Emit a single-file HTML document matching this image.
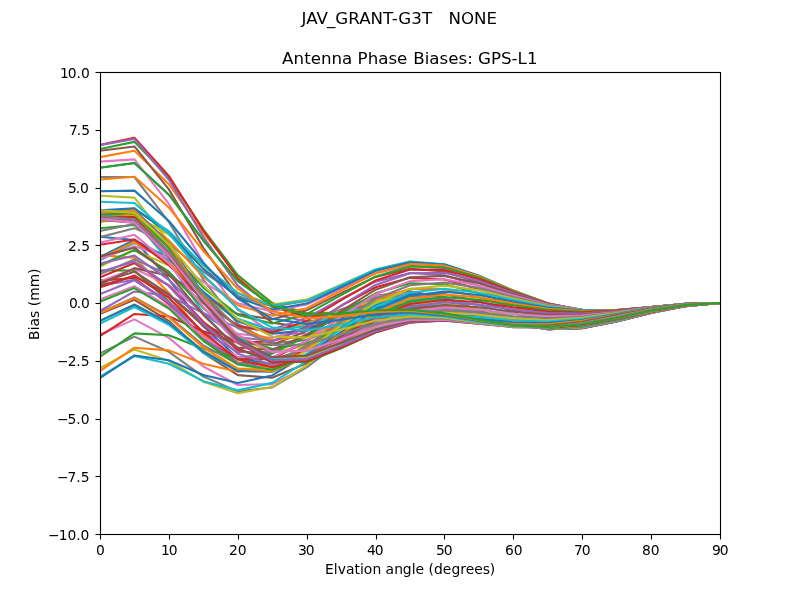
<!DOCTYPE html>
<html lang="en">
<head>
<meta charset="utf-8">
<title>JAV_GRANT-G3T NONE - Antenna Phase Biases: GPS-L1</title>
<style>
html,body{margin:0;padding:0;background:#fff;}
body{width:800px;height:600px;overflow:hidden;}
svg{display:block;font-family:"DejaVu Sans","Liberation Sans",sans-serif;fill:#000;}
.t10{font-size:13.889px;}
.t12{font-size:16.667px;}
.mid{text-anchor:middle;}
.end{text-anchor:end;}
.curves polyline{fill:none;stroke-width:2.0833;stroke-linejoin:round;stroke-linecap:square;}
.ticks line,.frame{stroke:#000;stroke-width:1.111;fill:none;}
.frame{stroke-linejoin:miter;stroke-linecap:square;}
</style>
</head>
<body>
<svg width="800" height="600" viewBox="0 0 800 600" role="img" aria-label="Antenna Phase Biases: GPS-L1">
<rect width="800" height="600" fill="#ffffff"/>
<defs><clipPath id="ax"><rect x="100" y="72" width="620" height="462"/></clipPath></defs>
<g class="curves" clip-path="url(#ax)">
<polyline points="100.00,167.73 134.44,162.94 168.89,194.71 203.33,240.48 237.78,280.87 272.22,305.72 306.67,314.65 341.11,313.62 375.56,310.17 410.00,309.61 444.44,313.39 478.89,319.67 513.33,325.14 547.78,327.01 582.22,324.26 616.67,317.96 651.11,310.58 685.56,304.95 720.00,303.07" stroke="#1f77b4"/>
<polyline points="100.00,157.10 134.44,150.76 168.89,184.22 203.33,232.87 237.78,276.05 272.22,302.94 306.67,313.05 341.11,312.51 375.56,309.18 410.00,308.66 444.44,312.57 478.89,319.13 513.33,324.95 547.78,327.12 582.22,324.56 616.67,318.28 651.11,310.81 685.56,305.06 720.00,303.07" stroke="#ff7f0e"/>
<polyline points="100.00,149.02 134.44,141.88 168.89,177.55 203.33,229.31 237.78,275.05 272.22,303.37 306.67,313.77 341.11,312.81 375.56,308.86 410.00,307.93 444.44,311.79 478.89,318.61 513.33,324.82 547.78,327.32 582.22,324.92 616.67,318.63 651.11,311.05 685.56,305.17 720.00,303.07" stroke="#2ca02c"/>
<polyline points="100.00,144.73 134.44,137.67 168.89,175.88 203.33,230.56 237.78,278.26 272.22,307.07 306.67,316.70 341.11,314.34 375.56,309.06 410.00,307.29 444.44,310.97 478.89,318.06 513.33,324.71 547.78,327.57 582.22,325.33 616.67,319.00 651.11,311.29 685.56,305.27 720.00,303.07" stroke="#d62728"/>
<polyline points="100.00,145.15 134.44,139.07 168.89,179.83 203.33,236.86 237.78,285.58 272.22,313.74 306.67,321.48 341.11,316.79 375.56,309.53 410.00,306.61 444.44,310.01 478.89,317.42 513.33,324.60 547.78,327.87 582.22,325.77 616.67,319.39 651.11,311.54 685.56,305.38 720.00,303.07" stroke="#9467bd"/>
<polyline points="100.00,150.79 134.44,146.43 168.89,189.40 203.33,247.85 237.78,296.39 272.22,322.70 306.67,327.50 341.11,319.70 375.56,310.00 410.00,305.74 444.44,308.86 478.89,316.67 513.33,324.45 547.78,328.17 582.22,326.23 616.67,319.78 651.11,311.78 685.56,305.48 720.00,303.07" stroke="#8c564b"/>
<polyline points="100.00,161.59 134.44,159.41 168.89,203.89 203.33,262.56 237.78,309.63 272.22,332.96 306.67,333.99 341.11,322.59 375.56,310.21 410.00,304.57 444.44,307.48 478.89,315.79 513.33,324.25 547.78,328.45 582.22,326.67 616.67,320.16 651.11,312.00 685.56,305.58 720.00,303.07" stroke="#e377c2"/>
<polyline points="100.00,176.94 134.44,177.00 168.89,222.01 203.33,279.55 237.78,323.91 272.22,343.38 306.67,340.15 341.11,324.95 375.56,309.93 410.00,303.04 444.44,305.87 478.89,314.79 513.33,323.98 547.78,328.69 582.22,327.09 616.67,320.51 651.11,312.21 685.56,305.67 720.00,303.07" stroke="#7f7f7f"/>
<polyline points="100.00,195.67 134.44,197.62 168.89,241.97 203.33,297.04 237.78,337.69 272.22,352.76 306.67,345.18 341.11,326.39 375.56,309.02 410.00,301.16 444.44,304.11 478.89,313.71 513.33,323.67 547.78,328.87 582.22,327.45 616.67,320.82 651.11,312.40 685.56,305.76 720.00,303.07" stroke="#bcbd22"/>
<polyline points="100.00,216.19 134.44,219.32 168.89,261.73 203.33,313.21 237.78,349.48 272.22,360.07 306.67,348.48 341.11,326.64 375.56,307.47 410.00,299.02 444.44,302.29 478.89,312.64 513.33,323.33 547.78,329.01 582.22,327.74 616.67,321.08 651.11,312.56 685.56,305.83 720.00,303.07" stroke="#17becf"/>
<polyline points="100.00,236.67 134.44,239.96 168.89,279.29 203.33,326.35 237.78,358.03 272.22,364.51 306.67,349.66 341.11,325.62 375.56,305.37 410.00,296.79 444.44,300.56 478.89,311.66 513.33,323.01 547.78,329.08 582.22,327.96 616.67,321.27 651.11,312.69 685.56,305.90 720.00,303.07" stroke="#1f77b4"/>
<polyline points="100.00,255.25 134.44,257.59 168.89,292.91 203.33,335.18 237.78,362.54 272.22,365.69 306.67,348.64 341.11,323.46 375.56,302.92 410.00,294.67 444.44,299.09 478.89,310.87 513.33,322.75 547.78,329.12 582.22,328.10 616.67,321.40 651.11,312.79 685.56,305.96 720.00,303.07" stroke="#ff7f0e"/>
<polyline points="100.00,270.29 134.44,270.60 168.89,301.40 203.33,338.99 237.78,362.72 272.22,363.66 306.67,345.66 341.11,320.44 375.56,300.42 410.00,292.90 444.44,298.03 478.89,310.37 513.33,322.60 547.78,329.13 582.22,328.16 616.67,321.47 651.11,312.85 685.56,306.01 720.00,303.07" stroke="#2ca02c"/>
<polyline points="100.00,280.63 134.44,278.05 168.89,304.24 203.33,337.74 237.78,358.89 272.22,358.90 306.67,341.22 341.11,317.02 375.56,298.19 410.00,291.69 444.44,297.53 478.89,310.24 513.33,322.59 547.78,329.14 582.22,328.14 616.67,321.46 651.11,312.88 685.56,306.05 720.00,303.07" stroke="#d62728"/>
<polyline points="100.00,285.70 134.44,279.72 168.89,301.71 203.33,332.07 237.78,351.90 272.22,352.26 306.67,336.05 341.11,313.72 375.56,296.56 410.00,291.24 444.44,297.66 478.89,310.51 513.33,322.75 547.78,329.13 582.22,328.06 616.67,321.40 651.11,312.87 685.56,306.08 720.00,303.07" stroke="#9467bd"/>
<polyline points="100.00,285.67 134.44,276.21 168.89,294.82 203.33,323.25 237.78,343.02 272.22,344.87 306.67,330.98 341.11,311.06 375.56,295.83 410.00,291.65 444.44,298.47 478.89,311.18 513.33,323.07 547.78,329.14 582.22,327.92 616.67,321.27 651.11,312.84 685.56,306.10 720.00,303.07" stroke="#8c564b"/>
<polyline points="100.00,281.42 134.44,268.81 168.89,285.15 203.33,312.96 237.78,333.79 272.22,337.93 306.67,326.84 341.11,309.52 375.56,296.17 410.00,292.96 444.44,299.90 478.89,312.21 513.33,323.52 547.78,329.14 582.22,327.72 616.67,321.10 651.11,312.77 685.56,306.11 720.00,303.07" stroke="#e377c2"/>
<polyline points="100.00,274.47 134.44,259.39 168.89,274.71 203.33,303.09 237.78,325.80 272.22,332.60 306.67,324.34 341.11,309.42 375.56,297.66 410.00,295.08 444.44,301.85 478.89,313.50 513.33,324.07 547.78,329.13 582.22,327.48 616.67,320.89 651.11,312.69 685.56,306.11 720.00,303.07" stroke="#7f7f7f"/>
<polyline points="100.00,266.71 134.44,250.07 168.89,265.57 203.33,295.44 237.78,320.43 272.22,329.82 306.67,323.97 341.11,310.92 375.56,300.22 410.00,297.86 444.44,304.15 478.89,314.94 513.33,324.63 547.78,329.09 582.22,327.19 616.67,320.63 651.11,312.58 685.56,306.11 720.00,303.07" stroke="#bcbd22"/>
<polyline points="100.00,260.22 134.44,242.97 168.89,259.62 203.33,291.50 237.78,318.72 272.22,330.15 306.67,325.94 341.11,313.95 375.56,303.66 410.00,301.05 444.44,306.58 478.89,316.37 513.33,325.15 547.78,328.99 582.22,326.86 616.67,320.36 651.11,312.47 685.56,306.10 720.00,303.07" stroke="#17becf"/>
<polyline points="100.00,256.91 134.44,239.89 168.89,258.29 203.33,292.23 237.78,321.16 272.22,333.74 306.67,330.13 341.11,318.27 375.56,307.67 410.00,304.35 444.44,308.89 478.89,317.64 513.33,325.52 547.78,328.80 582.22,326.48 616.67,320.06 651.11,312.34 685.56,306.08 720.00,303.07" stroke="#1f77b4"/>
<polyline points="100.00,258.25 134.44,242.04 168.89,262.33 203.33,297.91 237.78,327.68 272.22,340.29 306.67,336.14 341.11,323.44 375.56,311.84 410.00,307.43 444.44,310.87 478.89,318.59 513.33,325.67 547.78,328.49 582.22,326.05 616.67,319.74 651.11,312.20 685.56,306.06 720.00,303.07" stroke="#ff7f0e"/>
<polyline points="100.00,265.04 134.44,249.89 168.89,271.72 203.33,308.12 237.78,337.62 272.22,349.07 306.67,343.30 341.11,328.91 375.56,315.75 410.00,309.99 444.44,312.27 478.89,319.07 513.33,325.52 547.78,328.03 582.22,325.56 616.67,319.41 651.11,312.06 685.56,306.03 720.00,303.07" stroke="#2ca02c"/>
<polyline points="100.00,277.29 134.44,263.04 168.89,285.65 203.33,321.79 237.78,349.85 272.22,359.05 306.67,350.78 341.11,334.06 375.56,318.98 410.00,311.74 444.44,312.93 478.89,318.99 513.33,325.00 547.78,327.38 582.22,325.01 616.67,319.07 651.11,311.92 685.56,306.00 720.00,303.07" stroke="#d62728"/>
<polyline points="100.00,294.12 134.44,280.31 168.89,302.66 203.33,337.34 237.78,362.88 272.22,369.02 306.67,357.70 341.11,338.32 375.56,321.18 410.00,312.47 444.44,312.73 478.89,318.26 513.33,324.09 547.78,326.54 582.22,324.39 616.67,318.71 651.11,311.77 685.56,305.96 720.00,303.07" stroke="#9467bd"/>
<polyline points="100.00,313.92 134.44,299.84 168.89,320.78 203.33,352.90 237.78,375.12 272.22,377.75 306.67,363.20 341.11,341.17 375.56,322.07 410.00,312.07 444.44,311.59 478.89,316.86 513.33,322.76 547.78,325.48 582.22,323.70 616.67,318.35 651.11,311.63 685.56,305.93 720.00,303.07" stroke="#8c564b"/>
<polyline points="100.00,334.49 134.44,319.41 168.89,337.86 203.33,366.54 237.78,385.04 272.22,384.14 306.67,366.60 341.11,342.25 375.56,321.49 410.00,310.47 444.44,309.53 478.89,314.79 513.33,321.01 547.78,324.22 582.22,322.93 616.67,317.97 651.11,311.49 685.56,305.89 720.00,303.07" stroke="#e377c2"/>
<polyline points="100.00,353.38 134.44,336.64 168.89,351.79 203.33,376.56 237.78,391.35 272.22,387.37 306.67,367.45 341.11,341.36 375.56,319.42 410.00,307.73 444.44,306.61 478.89,312.11 513.33,318.88 547.78,322.76 582.22,322.09 616.67,317.58 651.11,311.34 685.56,305.84 720.00,303.07" stroke="#7f7f7f"/>
<polyline points="100.00,368.17 134.44,349.39 168.89,360.82 203.33,381.68 237.78,393.24 272.22,386.97 306.67,365.55 341.11,338.50 375.56,315.96 410.00,303.97 444.44,302.93 478.89,308.89 513.33,316.41 547.78,321.13 582.22,321.19 616.67,317.18 651.11,311.20 685.56,305.79 720.00,303.07" stroke="#bcbd22"/>
<polyline points="100.00,376.82 134.44,355.99 168.89,363.79 203.33,381.19 237.78,390.37 272.22,382.88 306.67,361.03 341.11,333.86 375.56,311.30 410.00,299.39 444.44,298.66 478.89,305.26 513.33,313.66 547.78,319.35 582.22,320.24 616.67,316.77 651.11,311.05 685.56,305.74 720.00,303.07" stroke="#17becf"/>
<polyline points="100.00,377.98 134.44,355.48 168.89,360.21 203.33,375.04 237.78,382.96 272.22,375.46 306.67,354.24 341.11,327.79 375.56,305.73 410.00,294.22 444.44,293.98 478.89,301.33 513.33,310.73 547.78,317.47 582.22,319.24 616.67,316.34 651.11,310.90 685.56,305.68 720.00,303.07" stroke="#1f77b4"/>
<polyline points="100.00,371.11 134.44,347.71 168.89,350.38 203.33,363.82 237.78,371.76 272.22,365.41 306.67,345.79 341.11,320.73 375.56,299.62 410.00,288.72 444.44,289.09 478.89,297.26 513.33,307.70 547.78,315.54 582.22,318.22 616.67,315.91 651.11,310.74 685.56,305.62 720.00,303.07" stroke="#ff7f0e"/>
<polyline points="100.00,356.66 134.44,333.40 168.89,335.28 203.33,348.68 237.78,357.87 272.22,353.69 306.67,336.40 341.11,313.21 375.56,293.32 410.00,283.18 444.44,284.20 478.89,293.19 513.33,304.68 547.78,313.60 582.22,317.19 616.67,315.47 651.11,310.58 685.56,305.56 720.00,303.07" stroke="#2ca02c"/>
<polyline points="100.00,335.95 134.44,313.97 168.89,316.50 203.33,331.19 237.78,342.67 272.22,341.38 306.67,326.86 341.11,305.79 375.56,287.22 410.00,277.86 444.44,279.51 478.89,289.28 513.33,301.76 547.78,311.72 582.22,316.18 616.67,315.03 651.11,310.41 685.56,305.49 720.00,303.07" stroke="#d62728"/>
<polyline points="100.00,311.04 134.44,291.45 168.89,295.95 203.33,313.09 237.78,327.63 272.22,329.60 306.67,317.95 341.11,298.96 375.56,281.64 410.00,272.99 444.44,275.20 478.89,285.67 513.33,299.04 547.78,309.95 582.22,315.21 616.67,314.58 651.11,310.23 685.56,305.41 720.00,303.07" stroke="#9467bd"/>
<polyline points="100.00,284.49 134.44,268.12 168.89,275.71 203.33,296.13 237.78,314.12 272.22,319.34 306.67,310.34 341.11,293.16 375.56,276.89 410.00,268.80 444.44,271.45 478.89,282.49 513.33,296.60 547.78,308.32 582.22,314.29 616.67,314.14 651.11,310.03 685.56,305.33 720.00,303.07" stroke="#8c564b"/>
<polyline points="100.00,259.00 134.44,246.33 168.89,257.73 203.33,281.88 237.78,303.30 272.22,311.41 306.67,304.56 341.11,288.74 375.56,273.18 410.00,265.45 444.44,268.39 478.89,279.83 513.33,294.52 547.78,306.90 582.22,313.45 616.67,313.71 651.11,309.83 685.56,305.24 720.00,303.07" stroke="#e377c2"/>
<polyline points="100.00,237.13 134.44,228.16 168.89,243.64 203.33,271.54 237.78,296.01 272.22,306.36 306.67,300.94 341.11,285.90 375.56,270.68 410.00,263.06 444.44,266.12 478.89,277.80 513.33,292.86 547.78,305.69 582.22,312.68 616.67,313.28 651.11,309.62 685.56,305.15 720.00,303.07" stroke="#7f7f7f"/>
<polyline points="100.00,220.95 134.44,215.23 168.89,234.58 203.33,265.84 237.78,292.69 272.22,304.42 306.67,299.63 341.11,284.75 375.56,269.46 410.00,261.72 444.44,264.70 478.89,276.42 513.33,291.64 547.78,304.73 582.22,312.00 616.67,312.86 651.11,309.39 685.56,305.05 720.00,303.07" stroke="#bcbd22"/>
<polyline points="100.00,211.86 134.44,208.51 168.89,231.13 203.33,265.04 237.78,293.39 272.22,305.56 306.67,300.58 341.11,285.26 375.56,269.53 410.00,261.44 444.44,264.17 478.89,275.73 513.33,290.89 547.78,304.01 582.22,311.42 616.67,312.46 651.11,309.16 685.56,304.95 720.00,303.07" stroke="#17becf"/>
<polyline points="100.00,210.40 134.44,208.29 168.89,233.25 203.33,268.90 237.78,297.77 272.22,309.49 306.67,303.57 341.11,287.30 375.56,270.82 410.00,262.19 444.44,264.51 478.89,275.71 513.33,290.58 547.78,303.54 582.22,310.93 616.67,312.07 651.11,308.92 685.56,304.85 720.00,303.07" stroke="#1f77b4"/>
<polyline points="100.00,216.23 134.44,214.13 168.89,240.36 203.33,276.74 237.78,305.23 272.22,315.70 306.67,308.26 341.11,290.65 375.56,273.20 410.00,263.89 444.44,265.64 478.89,276.31 513.33,290.69 547.78,303.30 582.22,310.54 616.67,311.70 651.11,308.68 685.56,304.74 720.00,303.07" stroke="#ff7f0e"/>
<polyline points="100.00,228.26 134.44,225.01 168.89,251.42 203.33,287.58 237.78,314.90 272.22,323.55 306.67,314.20 341.11,295.04 375.56,276.50 410.00,266.41 444.44,267.48 478.89,277.45 513.33,291.17 547.78,303.26 582.22,310.22 616.67,311.35 651.11,308.43 685.56,304.63 720.00,303.07" stroke="#2ca02c"/>
<polyline points="100.00,244.74 134.44,239.41 168.89,265.08 203.33,300.24 237.78,325.84 272.22,332.33 306.67,320.91 341.11,300.15 375.56,280.50 410.00,269.59 444.44,269.90 478.89,279.05 513.33,291.96 547.78,303.40 582.22,309.99 616.67,311.02 651.11,308.19 685.56,304.52 720.00,303.07" stroke="#d62728"/>
<polyline points="100.00,263.56 134.44,255.60 168.89,279.84 203.33,313.47 237.78,337.06 272.22,341.32 306.67,327.91 341.11,305.65 375.56,284.96 410.00,273.25 444.44,272.75 478.89,281.00 513.33,292.99 547.78,303.69 582.22,309.82 616.67,310.72 651.11,307.95 685.56,304.41 720.00,303.07" stroke="#9467bd"/>
<polyline points="100.00,282.48 134.44,271.73 168.89,294.20 203.33,326.07 237.78,347.65 272.22,349.88 306.67,334.74 341.11,311.21 375.56,289.65 410.00,277.19 444.44,275.88 478.89,283.18 513.33,294.21 547.78,304.10 582.22,309.74 616.67,310.46 651.11,307.73 685.56,304.31 720.00,303.07" stroke="#8c564b"/>
<polyline points="100.00,299.41 134.44,286.14 168.89,306.79 203.33,336.98 237.78,356.83 272.22,357.44 306.67,341.00 341.11,316.55 375.56,294.32 410.00,281.24 444.44,279.15 478.89,285.51 513.33,295.56 547.78,304.62 582.22,309.73 616.67,310.23 651.11,307.52 685.56,304.21 720.00,303.07" stroke="#e377c2"/>
<polyline points="100.00,312.62 134.44,297.40 168.89,316.53 203.33,345.38 237.78,364.02 272.22,363.59 306.67,346.38 341.11,321.43 375.56,298.79 410.00,285.22 444.44,282.43 478.89,287.90 513.33,297.00 547.78,305.24 582.22,309.80 616.67,310.06 651.11,307.34 685.56,304.12 720.00,303.07" stroke="#7f7f7f"/>
<polyline points="100.00,320.91 134.44,304.53 168.89,322.64 203.33,350.72 237.78,368.82 272.22,368.07 306.67,350.71 341.11,325.68 375.56,302.91 410.00,289.01 444.44,285.64 478.89,290.30 513.33,298.51 547.78,305.96 582.22,309.97 616.67,309.96 651.11,307.18 685.56,304.03 720.00,303.07" stroke="#bcbd22"/>
<polyline points="100.00,323.66 134.44,306.98 168.89,324.73 203.33,352.75 237.78,371.10 272.22,370.78 306.67,353.88 341.11,329.21 375.56,306.59 410.00,292.54 444.44,288.72 478.89,292.68 513.33,300.09 547.78,306.79 582.22,310.24 616.67,309.92 651.11,307.06 685.56,303.95 720.00,303.07" stroke="#17becf"/>
<polyline points="100.00,320.91 134.44,304.73 168.89,322.80 203.33,351.52 237.78,370.93 272.22,371.79 306.67,355.94 341.11,332.03 375.56,309.80 410.00,295.78 444.44,291.64 478.89,295.04 513.33,301.74 547.78,307.75 582.22,310.64 616.67,309.97 651.11,306.98 685.56,303.89 720.00,303.07" stroke="#1f77b4"/>
<polyline points="100.00,313.22 134.44,298.16 168.89,317.19 203.33,347.35 237.78,368.60 272.22,371.31 306.67,357.02 341.11,334.20 375.56,312.57 410.00,298.73 444.44,294.43 478.89,297.39 513.33,303.49 547.78,308.84 582.22,311.16 616.67,310.10 651.11,306.93 685.56,303.83 720.00,303.07" stroke="#ff7f0e"/>
<polyline points="100.00,301.61 134.44,288.06 168.89,308.57 203.33,340.82 237.78,364.56 272.22,369.69 306.67,357.34 341.11,335.85 375.56,314.99 410.00,301.45 444.44,297.10 478.89,299.76 513.33,305.34 547.78,310.08 582.22,311.81 616.67,310.32 651.11,306.93 685.56,303.79 720.00,303.07" stroke="#2ca02c"/>
<polyline points="100.00,287.36 134.44,275.46 168.89,297.82 203.33,332.66 237.78,359.39 272.22,367.33 306.67,357.19 341.11,337.17 375.56,317.16 410.00,304.01 444.44,299.72 478.89,302.17 513.33,307.32 547.78,311.48 582.22,312.60 616.67,310.63 651.11,306.97 685.56,303.76 720.00,303.07" stroke="#d62728"/>
<polyline points="100.00,271.89 134.44,261.57 168.89,285.99 203.33,323.73 237.78,353.75 272.22,364.70 306.67,356.85 341.11,338.34 375.56,319.19 410.00,306.48 444.44,302.33 478.89,304.65 513.33,309.43 547.78,313.01 582.22,313.51 616.67,311.01 651.11,307.04 685.56,303.74 720.00,303.07" stroke="#9467bd"/>
<polyline points="100.00,256.59 134.44,247.64 168.89,274.15 203.33,314.90 237.78,348.28 272.22,362.23 306.67,356.62 341.11,339.53 375.56,321.19 410.00,308.91 444.44,304.93 478.89,307.19 513.33,311.64 547.78,314.67 582.22,314.53 616.67,311.47 651.11,307.16 685.56,303.74 720.00,303.07" stroke="#8c564b"/>
<polyline points="100.00,242.63 134.44,234.83 168.89,263.33 203.33,307.00 237.78,343.56 272.22,360.30 306.67,356.69 341.11,340.85 375.56,323.21 410.00,311.33 444.44,307.55 478.89,309.77 513.33,313.92 547.78,316.41 582.22,315.61 616.67,311.98 651.11,307.30 685.56,303.74 720.00,303.07" stroke="#e377c2"/>
<polyline points="100.00,230.95 134.44,224.09 168.89,254.41 203.33,300.69 237.78,340.05 272.22,359.15 306.67,357.20 341.11,342.34 375.56,325.27 410.00,313.73 444.44,310.13 478.89,312.34 513.33,316.21 547.78,318.18 582.22,316.75 616.67,312.53 651.11,307.47 685.56,303.76 720.00,303.07" stroke="#7f7f7f"/>
<polyline points="100.00,222.13 134.44,216.13 168.89,248.00 203.33,296.43 237.78,337.99 272.22,358.88 306.67,358.13 341.11,343.98 375.56,327.31 410.00,316.04 444.44,312.62 478.89,314.83 513.33,318.45 547.78,319.93 582.22,317.88 616.67,313.10 651.11,307.66 685.56,303.79 720.00,303.07" stroke="#bcbd22"/>
<polyline points="100.00,216.38 134.44,211.27 168.89,244.42 203.33,294.38 237.78,337.40 272.22,359.41 306.67,359.36 341.11,345.61 375.56,329.22 410.00,318.18 444.44,314.93 478.89,317.16 513.33,320.56 547.78,321.59 582.22,318.97 616.67,313.67 651.11,307.87 685.56,303.83 720.00,303.07" stroke="#17becf"/>
<polyline points="100.00,213.54 134.44,209.50 168.89,243.60 203.33,294.39 237.78,338.04 272.22,360.45 306.67,360.63 341.11,347.05 375.56,330.84 410.00,320.03 444.44,316.96 478.89,319.23 513.33,322.45 547.78,323.10 582.22,319.99 616.67,314.22 651.11,308.08 685.56,303.88 720.00,303.07" stroke="#1f77b4"/>
<polyline points="100.00,213.16 134.44,210.39 168.89,245.11 203.33,296.01 237.78,339.47 272.22,361.61 306.67,361.61 341.11,348.03 375.56,332.00 410.00,321.45 444.44,318.61 478.89,320.96 513.33,324.07 547.78,324.41 582.22,320.89 616.67,314.73 651.11,308.30 685.56,303.94 720.00,303.07" stroke="#ff7f0e"/>
<polyline points="100.00,214.52 134.44,213.23 168.89,248.22 203.33,298.52 237.78,341.04 272.22,362.36 306.67,361.91 341.11,348.30 375.56,332.52 410.00,322.34 444.44,319.81 478.89,322.30 513.33,325.35 547.78,325.48 582.22,321.67 616.67,315.19 651.11,308.52 685.56,304.00 720.00,303.07" stroke="#2ca02c"/>
<polyline points="100.00,216.74 134.44,217.00 168.89,251.93 203.33,301.03 237.78,342.02 272.22,362.15 306.67,361.18 341.11,347.63 375.56,332.29 410.00,322.63 444.44,320.50 478.89,323.21 513.33,326.28 547.78,326.30 582.22,322.30 616.67,315.60 651.11,308.73 685.56,304.08 720.00,303.07" stroke="#d62728"/>
<polyline points="100.00,218.85 134.44,220.57 168.89,255.10 203.33,302.57 237.78,341.70 272.22,360.52 306.67,359.12 341.11,345.89 375.56,331.24 410.00,322.29 444.44,320.69 478.89,323.68 513.33,326.86 547.78,326.87 582.22,322.78 616.67,315.95 651.11,308.94 685.56,304.16 720.00,303.07" stroke="#9467bd"/>
<polyline points="100.00,219.92 134.44,222.79 168.89,256.65 203.33,302.27 237.78,339.47 272.22,357.13 306.67,355.60 341.11,343.04 375.56,329.39 410.00,321.36 444.44,320.40 478.89,323.76 513.33,327.12 547.78,327.21 582.22,323.13 616.67,316.26 651.11,309.14 685.56,304.24 720.00,303.07" stroke="#8c564b"/>
<polyline points="100.00,219.16 134.44,222.66 168.89,255.65 203.33,299.46 237.78,334.97 272.22,351.85 306.67,350.64 341.11,339.17 375.56,326.85 410.00,319.94 444.44,319.73 478.89,323.51 513.33,327.10 547.78,327.35 582.22,323.37 616.67,316.52 651.11,309.33 685.56,304.33 720.00,303.07" stroke="#e377c2"/>
<polyline points="100.00,216.00 134.44,219.46 168.89,251.49 203.33,293.79 237.78,328.14 272.22,344.84 306.67,344.50 341.11,334.53 375.56,323.80 410.00,318.17 444.44,318.77 478.89,323.01 513.33,326.89 547.78,327.35 582.22,323.53 616.67,316.75 651.11,309.53 685.56,304.42 720.00,303.07" stroke="#7f7f7f"/>
<polyline points="100.00,210.17 134.44,212.86 168.89,244.01 203.33,285.37 237.78,319.30 272.22,336.53 306.67,337.59 341.11,329.47 375.56,320.51 410.00,316.21 444.44,317.65 478.89,322.36 513.33,326.54 547.78,327.26 582.22,323.65 616.67,316.97 651.11,309.73 685.56,304.52 720.00,303.07" stroke="#bcbd22"/>
<polyline points="100.00,201.78 134.44,203.03 168.89,233.56 203.33,274.74 237.78,309.11 272.22,327.57 306.67,330.49 341.11,324.42 375.56,317.26 410.00,314.24 444.44,316.47 478.89,321.64 513.33,326.14 547.78,327.13 582.22,323.75 616.67,317.19 651.11,309.93 685.56,304.62 720.00,303.07" stroke="#17becf"/>
<polyline points="100.00,191.30 134.44,190.63 168.89,220.97 203.33,262.83 237.78,298.54 272.22,318.84 306.67,323.87 341.11,319.83 375.56,314.31 410.00,312.42 444.44,315.34 478.89,320.93 513.33,325.75 547.78,327.03 582.22,323.87 616.67,317.42 651.11,310.13 685.56,304.73 720.00,303.07" stroke="#1f77b4"/>
<polyline points="100.00,179.57 134.44,176.77 168.89,207.50 203.33,250.94 237.78,288.72 272.22,311.26 306.67,318.39 341.11,316.12 375.56,311.90 410.00,310.86 444.44,314.30 478.89,320.26 513.33,325.41 547.78,326.98 582.22,324.04 616.67,317.67 651.11,310.35 685.56,304.84 720.00,303.07" stroke="#ff7f0e"/>
<polyline points="100.00,167.73 134.44,162.94 168.89,194.71 203.33,240.48 237.78,280.87 272.22,305.72 306.67,314.65 341.11,313.62 375.56,310.17 410.00,309.61 444.44,313.39 478.89,319.67 513.33,325.14 547.78,327.01 582.22,324.26 616.67,317.96 651.11,310.58 685.56,304.95 720.00,303.07" stroke="#2ca02c"/>
</g>
<g class="ticks"><line x1="100.5" y1="534.50" x2="100.5" y2="539.50"/><line x1="169.5" y1="534.50" x2="169.5" y2="539.50"/><line x1="238.5" y1="534.50" x2="238.5" y2="539.50"/><line x1="307.5" y1="534.50" x2="307.5" y2="539.50"/><line x1="376.5" y1="534.50" x2="376.5" y2="539.50"/><line x1="444.5" y1="534.50" x2="444.5" y2="539.50"/><line x1="513.5" y1="534.50" x2="513.5" y2="539.50"/><line x1="582.5" y1="534.50" x2="582.5" y2="539.50"/><line x1="651.5" y1="534.50" x2="651.5" y2="539.50"/><line x1="720.5" y1="534.50" x2="720.5" y2="539.50"/><line x1="100.50" y1="534.5" x2="95.50" y2="534.5"/><line x1="100.50" y1="476.5" x2="95.50" y2="476.5"/><line x1="100.50" y1="419.5" x2="95.50" y2="419.5"/><line x1="100.50" y1="361.5" x2="95.50" y2="361.5"/><line x1="100.50" y1="303.5" x2="95.50" y2="303.5"/><line x1="100.50" y1="245.5" x2="95.50" y2="245.5"/><line x1="100.50" y1="188.5" x2="95.50" y2="188.5"/><line x1="100.50" y1="130.5" x2="95.50" y2="130.5"/><line x1="100.50" y1="72.5" x2="95.50" y2="72.5"/></g>
<rect class="frame" x="100.5" y="72.5" width="620" height="462"/>
<text class="t10" x="95.99" y="555.10">0</text>
<text class="t10" x="161.01 168.77" y="555.10">10</text>
<text class="t10" x="229.05 237.71" y="555.10">20</text>
<text class="t10" x="297.96 305.86" y="555.10">30</text>
<text class="t10" x="366.91 374.81" y="555.10">40</text>
<text class="t10" x="436 443.76" y="555.10">50</text>
<text class="t10" x="504.9 513.71" y="555.10">60</text>
<text class="t10" x="573.98 581.74" y="555.10">70</text>
<text class="t10" x="641.88 650.69" y="555.10">80</text>
<text class="t10" x="711.88 719.69" y="555.10">90</text>
<text class="t10" x="47.93 58.67 67.44 76.19 80.53" y="540.08">−10.0</text>
<text class="t10" x="56.99 67.44 76.19 80.82" y="482.33">−7.5</text>
<text class="t10" x="56.88 67.55 76.22 80.78" y="423.58">−5.0</text>
<text class="t10" x="56.88 67.84 76.22 80.78" y="365.83">−2.5</text>
<text class="t10" x="68.91 76.76 81.05" y="308.08">0.0</text>
<text class="t10" x="67.92 76.81 81.29" y="251.33">2.5</text>
<text class="t10" x="67.88 75.75 80.01" y="192.58">5.0</text>
<text class="t10" x="68.97 76.75 81.22" y="134.83">7.5</text>
<text class="t10" x="59.99 67.71 76.53 80.96" y="78.08">10.0</text>
<text class="t10" x="325.1 333.86 337.74 345.96 354.47 359.93 363.79 372.45 381.1 385.52 394.19 402.85 411.66 415.54 424.08 428.5 433.93 442.74 451.44 460.26 465.67 474.22 482.76 489.86" y="574.10">Elvation angle (degrees)</text>
<text class="t10" transform="translate(38.60,304.05) rotate(-90)" x="-35.85 -26.3 -22.41 -13.88 -6.62 -2.16 3.27 16.84 30.08">Bias (mm)</text>
<text class="t12 mid" x="409.70" y="64.30" dx="0 0.3 0 0 0 0 0 0 0 0 0 0 0 0.65">Antenna Phase Biases: GPS-L1</text>
<text class="t12 mid" x="399.30" y="24.00" xml:space="preserve" dx="0 0 0 -0.9 0 0 0 0 0 0 0 0 0 0 0.5">JAV_GRANT-G3T   NONE</text>
</svg>
</body>
</html>
